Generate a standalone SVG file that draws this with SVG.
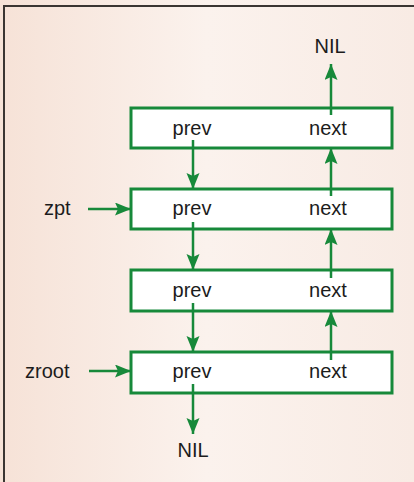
<svg xmlns="http://www.w3.org/2000/svg" width="414" height="482" viewBox="0 0 414 482">
<defs>
<style>
.frame{fill:none;stroke:#3a3532;stroke-width:2}
.box{fill:#ffffff;stroke:#17893a;stroke-width:3}
.lbl{font-family:"Liberation Sans",Arial,sans-serif;font-size:20px;fill:#1c1c1c}
.mid{text-anchor:middle}
.con{fill:none;stroke:#17893a;stroke-width:2.5}
</style>
<linearGradient id="bgg" x1="0" y1="0" x2="1" y2="0">
<stop offset="0" stop-color="#f6e2d7"/>
<stop offset="0.5" stop-color="#fbf2ed"/>
<stop offset="1" stop-color="#f8ebe4"/>
</linearGradient>
<marker id="ah" markerUnits="userSpaceOnUse" markerWidth="17" markerHeight="14" refX="16" refY="6.5" orient="auto">
<path d="M0,0 L16,6.5 L0,13 L3,6.5 z" fill="#17893a"/>
</marker>
</defs>
<rect x="0" y="0" width="414" height="482" fill="url(#bgg)"/>
<path class="frame" d="M4,482 V6 H414"/>

<g id="node1">
<rect class="box" x="131" y="108" width="261" height="40"/>
<text class="lbl mid" x="192" y="135">prev</text>
<text class="lbl mid" x="328" y="135">next</text>
</g>
<g id="node2">
<rect class="box" x="131" y="189" width="261" height="40"/>
<text class="lbl mid" x="192" y="215">prev</text>
<text class="lbl mid" x="328" y="215">next</text>
</g>
<g id="node3">
<rect class="box" x="131" y="270" width="261" height="41"/>
<text class="lbl mid" x="192" y="297">prev</text>
<text class="lbl mid" x="328" y="297">next</text>
</g>
<g id="node4">
<rect class="box" x="131" y="352" width="261" height="41"/>
<text class="lbl mid" x="192" y="378">prev</text>
<text class="lbl mid" x="328" y="378">next</text>
</g>

<g id="nil-top"><text class="lbl mid" x="330" y="53">NIL</text></g>
<g id="nil-bottom"><text class="lbl mid" x="193" y="457">NIL</text></g>
<g id="zpt"><text class="lbl" x="44" y="215">zpt</text></g>
<g id="zroot"><text class="lbl" x="25" y="378">zroot</text></g>

<g id="connectors">
<line class="con" x1="331" y1="115" x2="331" y2="64" marker-end="url(#ah)"/>
<line class="con" x1="193" y1="140" x2="193" y2="189" marker-end="url(#ah)"/>
<line class="con" x1="331" y1="196" x2="331" y2="148" marker-end="url(#ah)"/>
<line class="con" x1="193" y1="222" x2="193" y2="270" marker-end="url(#ah)"/>
<line class="con" x1="331" y1="278" x2="331" y2="229" marker-end="url(#ah)"/>
<line class="con" x1="193" y1="303" x2="193" y2="352" marker-end="url(#ah)"/>
<line class="con" x1="331" y1="360" x2="331" y2="311" marker-end="url(#ah)"/>
<line class="con" x1="193" y1="384" x2="193" y2="434" marker-end="url(#ah)"/>
<line class="con" x1="88" y1="209" x2="131" y2="209" marker-end="url(#ah)"/>
<line class="con" x1="89" y1="371" x2="131" y2="371" marker-end="url(#ah)"/>
</g>
</svg>
